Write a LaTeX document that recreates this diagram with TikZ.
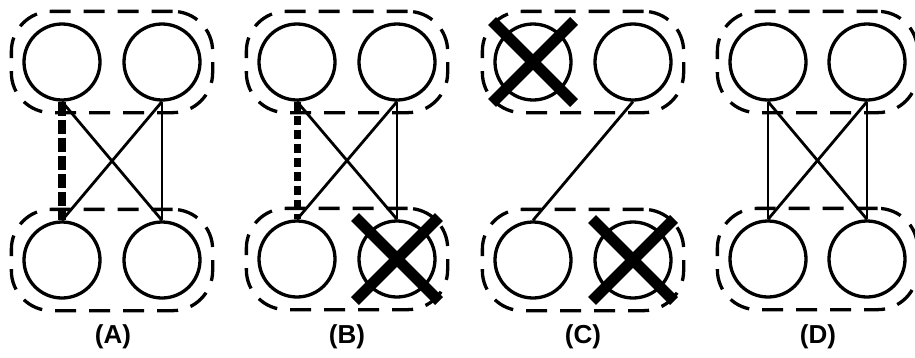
\documentclass[tikz,border=0pt]{standalone}
\usepackage{fontspec}
\setmainfont{Liberation Sans}
\usetikzlibrary{fit}
\begin{document}
\begin{tikzpicture}[x=1pt,y=-1pt,
  proc/.style={circle,draw,line width=3.3pt,minimum size=76pt,inner sep=0pt},
  groupbox/.style={draw,line width=3.3pt,dash pattern=on 21pt off 13pt,rounded corners=40pt,inner sep=11pt},
  link/.style={line width=2.8pt},
  badlink/.style={line width=8pt,dash pattern=on 14pt off 4pt},
  badlinkb/.style={line width=7pt,dash pattern=on 9pt off 5pt},
  crossout/.style={line width=11pt},
  lab/.style={font=\bfseries\fontsize{26}{29}\selectfont}]
\useasboundingbox (0,0) rectangle (915,357);
% Panel A
\node[proc] (A1) at (62,62) {};
\node[proc] (A2) at (162,62) {};
\node[proc] (A3) at (62,260) {};
\node[proc] (A4) at (162,260) {};
\node[groupbox,fit=(A1)(A2)] (At) {};
\node[groupbox,fit=(A3)(A4)] (Ab) {};
\draw[badlink] (A1.south) -- (A3.north);
\draw[link] (A1.south) -- (A4.north);
\draw[link] (A2.south) -- (A3.north);
\draw[link] (A2.south) -- (A4.north);
\node[lab] (LA) at (113,337) {(A)};
% Panel B
\node[proc] (B1) at (297,62) {};
\node[proc] (B2) at (397,62) {};
\node[proc] (B3) at (297,259) {};
\node[proc] (B4) at (397,259) {};
\node[groupbox,fit=(B1)(B2)] (Bt) {};
\node[groupbox,fit=(B3)(B4)] (Bb) {};
\draw[badlinkb] (B1.south) -- (B3.north);
\draw[link] (B1.south) -- (B4.north);
\draw[link] (B2.south) -- (B3.north);
\draw[link] (B2.south) -- (B4.north);
\draw[crossout] ([shift={(-42,-42)}]B4.center) -- ([shift={(42,42)}]B4.center);
\draw[crossout] ([shift={(42,-42)}]B4.center) -- ([shift={(-42,42)}]B4.center);
\node[lab] (LB) at (347,337) {(B)};
% Panel C
\node[proc] (C1) at (533,62) {};
\node[proc] (C2) at (633,62) {};
\node[proc] (C3) at (533,260) {};
\node[proc] (C4) at (633,260) {};
\node[groupbox,fit=(C1)(C2)] (Ct) {};
\node[groupbox,fit=(C3)(C4)] (Cb) {};
\draw[link] (C2.south) -- (C3.north);
\draw[crossout] ([shift={(-41,-41)}]C1.center) -- ([shift={(41,41)}]C1.center);
\draw[crossout] ([shift={(41,-41)}]C1.center) -- ([shift={(-41,41)}]C1.center);
\draw[crossout] ([shift={(-41,-41)}]C4.center) -- ([shift={(41,41)}]C4.center);
\draw[crossout] ([shift={(41,-41)}]C4.center) -- ([shift={(-41,41)}]C4.center);
\node[lab] (LC) at (583,337) {(C)};
% Panel D
\node[proc] (D1) at (768,62) {};
\node[proc] (D2) at (867,62) {};
\node[proc] (D3) at (768,259) {};
\node[proc] (D4) at (867,259) {};
\node[groupbox,fit=(D1)(D2)] (Dt) {};
\node[groupbox,fit=(D3)(D4)] (Db) {};
\draw[link] (D1.south) -- (D3.north);
\draw[link] (D1.south) -- (D4.north);
\draw[link] (D2.south) -- (D3.north);
\draw[link] (D2.south) -- (D4.north);
\node[lab] (LD) at (818,337) {(D)};
\end{tikzpicture}
\end{document}
